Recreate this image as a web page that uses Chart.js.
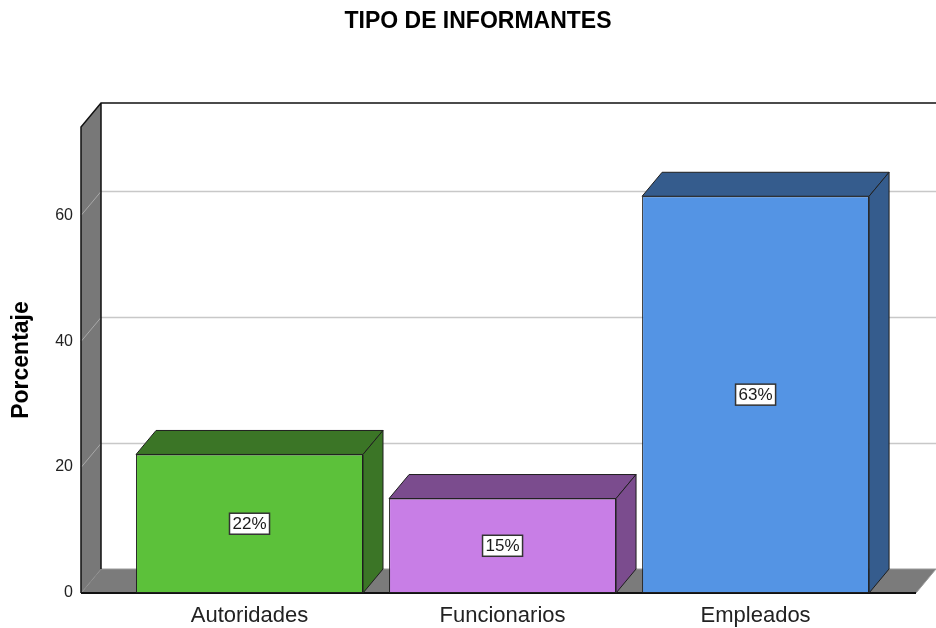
<!DOCTYPE html>
<html>
<head>
<meta charset="utf-8">
<title>Tipo de informantes</title>
<script src="https://cdn.jsdelivr.net/npm/chart.js@4.4.0/dist/chart.umd.min.js"></script>
<style>
    html, body { margin: 0; padding: 0; background: #fff; }
    #wrap { width: 936px; height: 628px; position: relative; }
</style>
</head>
<body>
<div id="wrap"><canvas id="informantesChart"></canvas></div>
<script>
// Data
const categories = ['Autoridades', 'Funcionarios', 'Empleados'];
const percentages = [22, 15, 63];
const yTicks = [0, 20, 40, 60];

// Colours (front face / top + side face)
const frontColors = ['#5cc13a', '#c87ee6', '#5494e4'];
const sideColors = ['#3b7526', '#7b4c8e', '#355c8d'];

const DEPTH_X = 20;
const DEPTH_Y = 24;

Chart.defaults.font.family = "'Liberation Sans', Arial, sans-serif";

// Draws the walls / floor behind the bars and the top + side faces after them
const threeD = {
    id: 'threeD',
    beforeDatasetsDraw(chart) {
        const ctx = chart.ctx;
        const { left, right, top, bottom } = chart.chartArea;
        const y = chart.scales.y;
        ctx.save();

        // floor
        ctx.beginPath();
        ctx.moveTo(left, bottom);
        ctx.lineTo(right, bottom);
        ctx.lineTo(right + DEPTH_X, bottom - DEPTH_Y);
        ctx.lineTo(left + DEPTH_X, bottom - DEPTH_Y);
        ctx.closePath();
        ctx.fillStyle = '#7b7b7b';
        ctx.fill();
        ctx.strokeStyle = '#9a9a9a';
        ctx.lineWidth = 1;
        ctx.stroke();

        // left wall
        ctx.beginPath();
        ctx.moveTo(left, bottom);
        ctx.lineTo(left, top);
        ctx.lineTo(left + DEPTH_X, top - DEPTH_Y);
        ctx.lineTo(left + DEPTH_X, bottom - DEPTH_Y);
        ctx.closePath();
        ctx.fillStyle = '#787878';
        ctx.fill();

        // grid lines on back wall and across the left wall
        yTicks.forEach(v => {
            if (v === 0) return;
            const py = Math.round(y.getPixelForValue(v)) + 0.5;
            ctx.beginPath();
            ctx.moveTo(left + DEPTH_X, py - DEPTH_Y);
            ctx.lineTo(chart.width, py - DEPTH_Y);
            ctx.strokeStyle = '#c8c8c8';
            ctx.lineWidth = 1.5;
            ctx.stroke();
            ctx.beginPath();
            ctx.moveTo(left, py);
            ctx.lineTo(left + DEPTH_X, py - DEPTH_Y);
            ctx.strokeStyle = '#a8a8a8';
            ctx.lineWidth = 1;
            ctx.stroke();
        });

        // outlines
        ctx.strokeStyle = '#111';
        ctx.lineWidth = 1.5;
        ctx.beginPath();
        ctx.moveTo(left, bottom);
        ctx.lineTo(left, top);
        ctx.lineTo(left + DEPTH_X, top - DEPTH_Y);
        ctx.lineTo(chart.width, top - DEPTH_Y);
        ctx.moveTo(left + DEPTH_X, top - DEPTH_Y);
        ctx.lineTo(left + DEPTH_X, bottom - DEPTH_Y);
        ctx.stroke();
        ctx.lineWidth = 2;
        ctx.beginPath();
        ctx.moveTo(left, bottom);
        ctx.lineTo(right, bottom);
        ctx.stroke();
        ctx.restore();
    },
    afterDatasetsDraw(chart) {
        const ctx = chart.ctx;
        const meta = chart.getDatasetMeta(0);
        ctx.save();
        meta.data.forEach((bar, i) => {
            const x0 = bar.x - bar.width / 2;
            const x1 = bar.x + bar.width / 2;
            const yt = bar.y;
            const yb = bar.base;
            ctx.fillStyle = sideColors[i];
            ctx.strokeStyle = '#1e1e1e';
            ctx.lineWidth = 1;

            // top face
            ctx.beginPath();
            ctx.moveTo(x0, yt);
            ctx.lineTo(x1, yt);
            ctx.lineTo(x1 + DEPTH_X, yt - DEPTH_Y);
            ctx.lineTo(x0 + DEPTH_X, yt - DEPTH_Y);
            ctx.closePath();
            ctx.fill();
            ctx.stroke();

            // side face
            ctx.beginPath();
            ctx.moveTo(x1, yt);
            ctx.lineTo(x1 + DEPTH_X, yt - DEPTH_Y);
            ctx.lineTo(x1 + DEPTH_X, yb - DEPTH_Y);
            ctx.lineTo(x1, yb);
            ctx.closePath();
            ctx.fill();
            ctx.stroke();

            // value label
            const text = percentages[i] + '%';
            ctx.font = "17px 'Liberation Sans', Arial, sans-serif";
            const w = ctx.measureText(text).width + 6;
            const h = 21;
            const cy = (yt + yb) / 2;
            ctx.fillStyle = '#fff';
            ctx.fillRect(bar.x - w / 2, cy - h / 2, w, h);
            ctx.strokeStyle = '#333';
            ctx.lineWidth = 1.5;
            ctx.strokeRect(bar.x - w / 2, cy - h / 2, w, h);
            ctx.fillStyle = '#1a1a1a';
            ctx.textAlign = 'center';
            ctx.textBaseline = 'middle';
            ctx.fillText(text, bar.x, cy + 1);
        });
        ctx.restore();
    }
};

const ctx = document.getElementById('informantesChart').getContext('2d');
const chart = new Chart(ctx, {
    type: 'bar',
    data: {
        datasets: [{
            label: 'Porcentaje',
            data: percentages.map((v, i) => ({ x: i, y: v })),
            backgroundColor: frontColors,
            borderColor: '#1e1e1e',
            borderWidth: 1,
            borderSkipped: false,
            barPercentage: 0.897,
            categoryPercentage: 1
        }]
    },
    options: {
        responsive: true,
        maintainAspectRatio: false,
        animation: false,
        layout: {
            // left padding shifts the centred title to match the original
            padding: { top: 0, right: 20, bottom: 0, left: 40 }
        },
        plugins: {
            legend: { display: false },
            tooltip: { enabled: false },
            title: {
                display: true,
                text: 'TIPO DE INFORMANTES',
                color: '#000',
                font: { size: 23, weight: 'bold' },
                padding: { top: 8, bottom: 91.4 }
            }
        },
        scales: {
            x: {
                type: 'linear',
                min: -0.666,
                max: 2.634,
                offset: false,
                grid: { display: false, drawTicks: false, offset: false },
                border: { display: false },
                afterBuildTicks: function(scale) {
                    scale.ticks = categories.map((c, i) => ({ value: i }));
                },
                afterFit: function(scale) {
                    scale.height = 35;
                },
                ticks: {
                    color: '#222',
                    font: { size: 22 },
                    padding: 10,
                    maxRotation: 0,
                    callback: function(value) {
                        return categories[value];
                    }
                }
            },
            y: {
                min: 0,
                max: 74,
                grid: { display: false, drawTicks: false },
                border: { display: false },
                afterBuildTicks: function(scale) {
                    scale.ticks = yTicks.map(v => ({ value: v }));
                },
                afterFit: function(scale) {
                    scale.width = 41;
                },
                ticks: {
                    color: '#222',
                    font: { size: 16 },
                    padding: 8
                },
                title: {
                    display: true,
                    text: 'Porcentaje',
                    color: '#000',
                    font: { size: 23, weight: 'bold' },
                    padding: { top: -32, bottom: 0 }
                }
            }
        }
    },
    plugins: [threeD]
});
</script>
</body>
</html>
